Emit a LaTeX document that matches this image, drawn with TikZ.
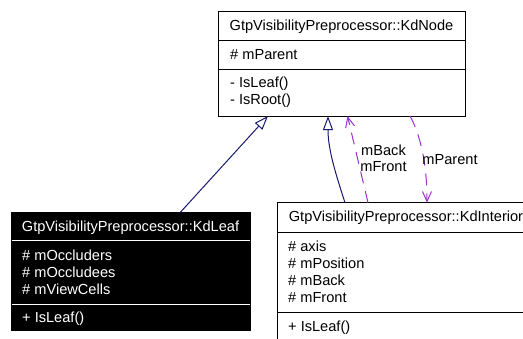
\documentclass[tikz,border=0pt]{standalone}
\usepackage{fontspec}
\setmainfont{Liberation Sans}
\usetikzlibrary{arrows.meta}
\definecolor{inhblue}{HTML}{191970}
\definecolor{usepurple}{HTML}{9A32CD}
\begin{document}
\begin{tikzpicture}[x=1pt,y=-1pt,
  every node/.style={font=\fontsize{14.6}{16}\selectfont},
  classbox/.style={draw=black, line width=0.9pt, fill=white, inner sep=0pt, outer sep=0pt},
  leafbox/.style={classbox, fill=black},
  member/.style={anchor=base west, inner sep=0pt},
  ctitle/.style={anchor=base, inner sep=0pt},
  divider/.style={draw=black, line width=0.9pt},
  leafdivider/.style={draw=white, line width=0.9pt},
  inherit/.style={draw=inhblue, line width=1pt, -{Triangle[length=14pt,width=10pt,fill=white]}},
  usage/.style={draw=usepurple, line width=1pt, dash pattern=on 12pt off 8pt, -{Straight Barb[length=10pt,width=9pt]}},
  lbl/.style={inner sep=0pt}]
\useasboundingbox[fill=white] (0,0) rectangle (523,338);

% KdNode
\node[classbox, minimum width=247pt, minimum height=105pt] (kdnode) at (341.5,63.5) {};
\draw[divider] (218,40) -- (465,40);
\draw[divider] (218,69) -- (465,69);
\node[ctitle] (kdnodetitle) at (341.5,30.7) {GtpVisibilityPreprocessor::KdNode};
\node[member] (kdnodea1) at (230,59.7) {\# mParent};
\node[member] (kdnodem1) at (230,87.9) {- IsLeaf()};
\node[member] (kdnodem2) at (230,104.5) {- IsRoot()};

% KdLeaf
\node[leafbox, minimum width=239pt, minimum height=117.8pt] (kdleaf) at (130.5,271.6) {};
\draw[leafdivider] (11.5,240) -- (249.5,240);
\draw[leafdivider] (11.5,304.3) -- (249.5,304.3);
\node[ctitle, text=white] (kdleaftitle) at (130.5,231.5) {GtpVisibilityPreprocessor::KdLeaf};
\node[member, text=white] (kdleafa1) at (22,260.2) {\# mOccluders};
\node[member, text=white] (kdleafa2) at (22,277.3) {\# mOccludees};
\node[member, text=white] (kdleafa3) at (22,294.4) {\# mViewCells};
\node[member, text=white] (kdleafm1) at (22,322.5) {+ IsLeaf()};

% KdInterior
\node[classbox, minimum width=258pt, minimum height=167.3pt] (kdint) at (406,286.35) {};
\draw[divider] (277,232.3) -- (535,232.3);
\draw[divider] (277,312.3) -- (535,312.3);
\node[ctitle] (kdinttitle) at (406,221.2) {GtpVisibilityPreprocessor::KdInterior};
\node[member] (kdinta1) at (288,251.7) {\# axis};
\node[member] (kdinta2) at (288,268.6) {\# mPosition};
\node[member] (kdinta3) at (288,285.6) {\# mBack};
\node[member] (kdinta4) at (288,302.6) {\# mFront};
\node[member] (kdintm1) at (288,331.9) {+ IsLeaf()};

% inheritance
\draw[inherit] ([xshift=49.5pt]kdleaf.north) -- ([xshift=-73.5pt]kdnode.south);
\draw[inherit] ([xshift=-61pt]kdint.north) .. controls +(-9,-28) and +(0,34) .. ([xshift=-13.5pt]kdnode.south);

% usage
\draw[usage] ([xshift=-38pt]kdint.north) -- ([xshift=6pt]kdnode.south);
\draw[usage] ([xshift=68.5pt]kdnode.south) .. controls +(10,18) and +(0,-40) .. ([xshift=21pt]kdint.north);
\node[lbl, align=center] (lblback) at (383.5,158.5) {mBack\\mFront};
\node[lbl] (lblparent) at (450,159.3) {mParent};
\end{tikzpicture}
\end{document}
